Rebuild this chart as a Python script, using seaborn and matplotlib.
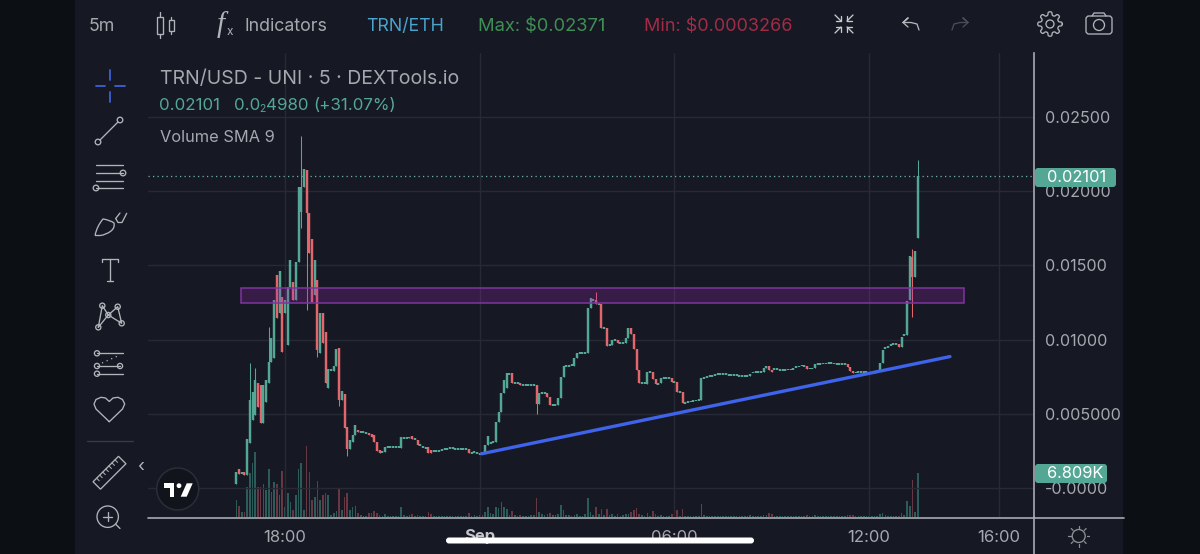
import numpy as np
import pandas as pd
import seaborn as sns
import matplotlib.pyplot as plt
from matplotlib.patches import Rectangle, Circle, Polygon, FancyBboxPatch, PathPatch
from matplotlib.path import Path

# candles are 5m apart, first one at 16:30, values in 1e-5 USD
opens = [
    27, 128, 101, 108, 88, 303, 458, 492, 707, 694,
    438, 579, 707, 848, 875, 1434, 1178, 1286, 1178, 963,
    1354, 1387, 1266, 1522, 1859, 2027, 2141, 1852, 1677, 1300,
    1401, 909, 1178, 1051, 673, 795, 788, 822, 943, 593,
    633, 411, 263, 310, 357, 391, 377, 377, 370, 370,
    364, 357, 310, 256, 242, 242, 276, 276, 276, 276,
    276, 269, 337, 337, 337, 350, 330, 323, 290, 276,
    269, 276, 256, 249, 249, 249, 256, 263, 263, 269,
    269, 263, 263, 263, 263, 263, 263, 236, 242, 236,
    229, 242, 236, 290, 303, 310, 310, 444, 512, 640,
    673, 768, 774, 707, 707, 707, 694, 694, 694, 694,
    694, 694, 566, 640, 640, 640, 613, 559, 559, 559,
    606, 747, 822, 822, 828, 822, 875, 909, 909, 909,
    909, 1212, 1266, 1266, 1239, 1239, 1077, 1077, 963, 963,
    997, 997, 976, 976, 976, 1010, 1077, 1037, 936, 795,
    707, 707, 700, 781, 781, 734, 700, 707, 741, 741,
    741, 741, 714, 714, 646, 646, 572, 579, 582, 586,
    589, 593, 593, 741, 747, 754, 754, 761, 768, 768,
    768, 768, 761, 761, 761, 761, 754, 754, 754, 754,
    754, 778, 781, 781, 781, 781, 808, 822, 795, 801,
    801, 795, 795, 795, 798, 798, 801, 815, 818, 824,
    822, 822, 805, 805, 808, 835, 835, 838, 838, 842,
    842, 838, 835, 835, 835, 835, 835, 815, 788, 778,
    781, 781, 781, 781, 774, 774, 774, 788, 788, 842,
    943, 951, 963, 970, 970, 970, 949, 1030, 1030, 1266,
    1556, 1421, 1684,
]
closes = [
    108, 94, 101, 88, 330, 593, 646, 727, 545, 438,
    694, 727, 848, 1010, 1266, 1145, 1461, 916, 1266, 1354,
    1535, 1266, 1522, 2027, 2027, 2148, 1852, 1582, 1253, 1535,
    929, 1178, 976, 707, 801, 795, 822, 936, 593, 653,
    404, 263, 323, 357, 424, 377, 377, 377, 370, 357,
    343, 310, 249, 236, 242, 276, 276, 276, 276, 276,
    276, 343, 337, 337, 343, 330, 330, 290, 290, 276,
    269, 236, 236, 249, 249, 249, 256, 263, 263, 269,
    269, 263, 263, 263, 263, 263, 236, 236, 242, 236,
    229, 229, 290, 350, 303, 310, 444, 512, 640, 727,
    774, 768, 707, 707, 707, 694, 694, 694, 694, 694,
    694, 566, 640, 640, 640, 613, 559, 559, 559, 606,
    747, 822, 822, 822, 828, 875, 909, 909, 909, 909,
    1212, 1279, 1266, 1239, 1239, 1077, 1077, 956, 963, 997,
    997, 976, 976, 976, 1010, 1077, 1037, 936, 795, 707,
    707, 707, 781, 781, 734, 700, 700, 741, 741, 741,
    741, 714, 714, 646, 646, 572, 572, 579, 582, 586,
    589, 593, 741, 741, 747, 754, 754, 761, 768, 768,
    768, 768, 761, 761, 761, 761, 754, 754, 754, 754,
    768, 778, 781, 781, 781, 808, 822, 795, 781, 801,
    801, 795, 795, 795, 798, 798, 801, 815, 818, 824,
    822, 801, 805, 805, 835, 835, 835, 838, 838, 842,
    842, 838, 835, 835, 835, 835, 815, 788, 774, 778,
    781, 781, 781, 781, 774, 774, 788, 788, 842, 929,
    943, 951, 963, 970, 970, 949, 1017, 1030, 1259, 1562,
    1421, 1596, 2101,
]
# only candles with a visible wick
wick_idx = [5, 7, 12, 24, 26, 30, 38, 41, 111, 133, 250, 252]
wick_high = [842, 808, 1084, 2371, 2141, 1401, 943, 411, 694, 1320, 1609, 2209]
wick_low = [303, 492, 707, 1751, 1199, 882, 552, 215, 498, 1239, 1152, 1684]

volumes = [
    2.6, 1.7, 0.8, 0.8, 4.6, 6.8, 8.4, 10.1, 4.6, 4.6,
    5.1, 4.2, 7.4, 3.9, 5.4, 5.1, 3.4, 7.1, 1.6, 3.7,
    2.3, 1.1, 3.4, 7.4, 8.4, 1.1, 11.0, 7.0, 2.6, 3.1,
    5.6, 2.6, 3.4, 3.7, 3.4, 0.3, 0.6, 0.9, 4.3, 1.1,
    3.1, 3.7, 1.1, 1.6, 1.7, 0.6, 0.3, 0.2, 0.2, 0.6,
    0.6, 0.9, 0.6, 0.3, 0.2, 0.5, 0.2, 0.2, 0.2, 0.2,
    0.2, 1.6, 0.3, 0.2, 0.3, 0.5, 0.2, 0.3, 0.2, 0.2,
    0.2, 0.8, 0.5, 0.2, 0.2, 0.2, 0.2, 0.2, 0.2, 0.2,
    0.2, 0.2, 0.2, 0.2, 0.2, 0.2, 0.6, 0.2, 0.3, 0.2,
    0.3, 0.3, 0.8, 1.6, 0.6, 0.5, 1.6, 1.4, 2.3, 1.6,
    1.2, 0.3, 0.9, 0.3, 0.2, 0.3, 0.2, 0.2, 0.2, 0.3,
    0.3, 2.9, 0.8, 0.5, 0.3, 0.5, 0.6, 0.3, 0.3, 0.5,
    1.9, 1.1, 0.3, 0.3, 0.2, 0.3, 0.5, 0.2, 0.2, 0.5,
    2.9, 0.8, 0.3, 1.6, 0.5, 1.2, 0.3, 1.2, 0.3, 0.5,
    0.2, 0.5, 0.2, 0.3, 0.5, 0.5, 0.8, 1.1, 1.4, 0.5,
    0.3, 0.2, 0.6, 0.2, 0.9, 0.5, 0.2, 0.3, 0.2, 0.2,
    0.2, 0.5, 0.2, 1.1, 0.2, 1.2, 0.2, 0.2, 0.2, 0.2,
    0.2, 0.2, 2.0, 0.3, 0.2, 0.2, 0.2, 0.2, 0.2, 0.2,
    0.2, 0.2, 0.2, 0.2, 0.2, 0.2, 0.2, 0.2, 0.2, 0.2,
    0.3, 0.2, 0.2, 0.2, 0.2, 0.3, 0.3, 0.6, 0.5, 0.2,
    0.2, 0.2, 0.2, 0.2, 0.2, 0.2, 0.2, 0.2, 0.2, 0.2,
    0.2, 0.3, 0.2, 0.2, 0.3, 0.2, 0.2, 0.2, 0.2, 0.2,
    0.2, 0.2, 0.2, 0.2, 0.2, 0.2, 0.3, 0.3, 0.3, 0.2,
    0.2, 0.2, 0.2, 0.2, 0.2, 0.2, 0.2, 0.2, 0.5, 0.6,
    0.3, 0.2, 0.2, 0.2, 0.2, 0.2, 0.6, 0.3, 2.5, 1.7,
    5.7, 0.8, 6.809,
]

price_ticks = [0.025, 0.02, 0.015, 0.01, 0.005, 0.0]
price_labels = ['0.02500', '0.02000', '0.01500', '0.01000', '0.005000', '-0.0000']
time_ticks = [0, 6, 12, 18, 22]
time_labels = ['18:00', 'Sep', '06:00', '12:00', '16:00']
last_price = 0.02101

# drawings made on the chart: hours after 18:00, price
zone_hours = [-1.356, 20.92]
zone_prices = [0.01246, 0.01347]
trend_hours = [6.06, 20.49]
trend_prices = [0.00231, 0.00885]

GREEN = '#54a795'
RED = '#e2666b'
VOL_GREEN = '#2c5c5a'
VOL_RED = '#683744'
BG = '#161923'
GRID = '#272a34'
GREY = '#a6a8ae'
ICON = '#b2b4b9'

sns.set_theme(style='dark')
plt.rcParams['font.family'] = ['Inter', 'DejaVu Sans']

df = pd.DataFrame({'open': opens, 'close': closes, 'volume': volumes})
df['open'] = df['open'] * 1e-5
df['close'] = df['close'] * 1e-5
df['hours'] = (df.index - 18) * 5 / 60
df['high'] = df[['open', 'close']].max(axis=1)
df['low'] = df[['open', 'close']].min(axis=1)
df.loc[wick_idx, 'high'] = np.array(wick_high) * 1e-5
df.loc[wick_idx, 'low'] = np.array(wick_low) * 1e-5
df['side'] = np.where(df['close'] >= df['open'], 'up', 'down')
colors = df['side'].map({'up': GREEN, 'down': RED})

fig = plt.figure(figsize=(12, 5.54), dpi=100, facecolor='#0c0f14')

back = fig.add_axes([0, 0, 1, 1], zorder=0)
back.set_xlim(0, 1200)
back.set_ylim(554, 0)
back.axis('off')
back.add_patch(Rectangle((75, 0), 1048, 554, color=BG, lw=0))

# volume sits under the price panel, on its own scale
axv = fig.add_axes([148 / 1200, 37 / 554, 886 / 1200, 464 / 554], zorder=1)
axv.patch.set_visible(False)
sns.barplot(data=df, x='hours', y='volume', hue='side', native_scale=True,
            palette={'up': VOL_GREEN, 'down': VOL_RED}, dodge=False, legend=False,
            errorbar=None, saturation=1, width=0.6, linewidth=0, ax=axv)
axv.set_ylim(0, 71.8)
axv.set_xlim(-4.222, 23.08)
axv.axis('off')

ax = fig.add_axes([148 / 1200, 37 / 554, 886 / 1200, 464 / 554], zorder=2)
ax.patch.set_visible(False)
ax.set_xlim(-4.222, 23.08)
ax.set_ylim(-0.00195, 0.02929)

ax.grid(True, color=GRID, lw=1)
ax.set_axisbelow(True)
ax.set_xticks(time_ticks)
ax.set_xticklabels(time_labels)
ax.set_yticks(price_ticks)
ax.set_yticklabels(price_labels)
ax.yaxis.tick_right()
ax.tick_params(axis='y', length=0, pad=8, labelsize=11.6, labelcolor=GREY)
ax.tick_params(axis='x', length=0, pad=9, labelsize=12, labelcolor=GREY)
ax.get_xticklabels()[1].set_fontweight('bold')
ax.get_xticklabels()[1].set_color('#c4c6cb')
for name in ['top', 'left', 'bottom']:
    ax.spines[name].set_visible(False)
ax.spines['right'].set_color('#a9abb1')
ax.spines['right'].set_linewidth(1.2)

ax.hlines(last_price, -4.222, 23.08, color='#6fb3a4', lw=0.9, linestyles=(0, (1, 2.6)), zorder=2)

# candles: thin wick plus a body that never gets thinner than a dash
mid = (df['open'] + df['close']) / 2
half = np.maximum((df['close'] - df['open']).abs() / 2, 0.00005)
ax.vlines(df['hours'], df['low'], df['high'], colors=colors, lw=0.75, capstyle='butt', zorder=3)
ax.vlines(df['hours'], mid - half, mid + half, colors=colors, lw=1.75, capstyle='butt', zorder=3)

ax.add_patch(Rectangle((zone_hours[0], zone_prices[0]), zone_hours[1] - zone_hours[0],
                       zone_prices[1] - zone_prices[0], facecolor='#9c27b0', alpha=0.25,
                       edgecolor='none', zorder=4))
ax.add_patch(Rectangle((zone_hours[0], zone_prices[0]), zone_hours[1] - zone_hours[0],
                       zone_prices[1] - zone_prices[0], facecolor='none',
                       edgecolor='#7f35a0', lw=1.1, zorder=4))
sns.lineplot(x=trend_hours, y=trend_prices, color='#3f63ea', lw=2.4, ax=ax, zorder=5)
ax.set_xlabel('')
ax.set_ylabel('')

# toolbar, legend text and badges are laid over the chart in pixels
ui = fig.add_axes([0, 0, 1, 1], zorder=3)
ui.set_xlim(0, 1200)
ui.set_ylim(554, 0)
ui.axis('off')
ui.patch.set_visible(False)


def stroke(xs, ys, color=ICON, lw=0.95, **kw):
    ui.plot(xs, ys, color=color, lw=lw, solid_capstyle='round', **kw)


def ring(x, y, r, color=ICON, lw=0.95, fill='none'):
    ui.add_patch(Circle((x, y), r, facecolor=fill, edgecolor=color, lw=lw))


stroke([148, 1124], [517.5, 517.5], color='#a9abb1', lw=1.2)
stroke([1034, 1034], [517, 554], color='#a9abb1', lw=1.2)

# top bar
ui.text(89, 26.5, '5m', color=GREY, fontsize=12.8, va='center')
ui.text(245, 26.5, 'Indicators', color=GREY, fontsize=12.8, va='center')
ui.text(366, 26.5, 'TRN/ETH', color='#4ba4cf', fontsize=12.8, va='center')
ui.text(478, 26.5, 'Max: $0.02371', color='#3f8f55', fontsize=13.2, va='center')
ui.text(644, 26.5, 'Min: $0.0003266', color='#a32b45', fontsize=13.0, va='center')
ui.text(217, 25, 'f', color=ICON, fontsize=21, style='italic', family='Liberation Serif', va='center')
ui.text(227, 32, 'x', color=ICON, fontsize=8.5, va='center')

stroke([160, 160], [12, 38])
stroke([171, 171], [17, 34])
ui.add_patch(Rectangle((157, 17), 6, 17, facecolor=BG, edgecolor=ICON, lw=0.95, zorder=5))
ui.add_patch(Rectangle((168.5, 20), 5, 10.5, facecolor=BG, edgecolor=ICON, lw=0.95, zorder=5))

# legend rows
ui.text(160, 78.5, 'TRN/USD - UNI · 5 · DEXTools.io', color=GREY, fontsize=14, va='center')
ui.text(159, 106, '0.02101', color=GREEN, fontsize=12.2, va='center')
ui.text(234, 106, '0.0', color=GREEN, fontsize=12.2, va='center')
ui.text(259, 109, '2', color=GREEN, fontsize=7.5, va='center')
ui.text(266, 106, '4980', color=GREEN, fontsize=12.2, va='center')
ui.text(313, 106, '(+31.07%)', color=GREEN, fontsize=12.2, va='center')
ui.text(160, 138, 'Volume SMA 9', color=GREY, fontsize=11.8, va='center')

# price badges
for x1, y1, label, in [(1117, 167, '0.02101'), (1108, 463, '6.809K')]:
    ui.add_patch(FancyBboxPatch((1035, y1 + 1), x1 - 1036, 19, boxstyle='round,pad=0,rounding_size=3',
                                facecolor=GREEN, edgecolor='none', zorder=6))
    ui.text(1047, y1 + 11, label, color='white', fontsize=11.8, va='center', zorder=7)

# left tool column
stroke([95.5, 105], [86, 86], color='#3f5fd8', lw=1.3)
stroke([115, 125], [86, 86], color='#3f5fd8', lw=1.3)
stroke([110, 110], [70, 80], color='#3f5fd8', lw=1.3)
stroke([110, 110], [92, 102], color='#3f5fd8', lw=1.3)

stroke([100, 118], [140, 122])
ring(98, 142, 2.8)
ring(120, 120, 2.8)

for y in [165, 173, 181, 188]:
    stroke([96, 123], [y, y])
ring(123, 173, 2.8, fill=BG)
ring(96, 188, 2.8, fill=BG)

# brush: a leaf shaped tip and a hook for the handle
leaf = Path([(95, 235.5), (97, 226), (103, 219), (110, 220), (114, 223), (115, 228), (111, 231),
             (106, 235), (100, 235.5), (95, 235.5)],
            [Path.MOVETO] + [Path.CURVE3] * 8 + [Path.LINETO])
ui.add_patch(PathPatch(leaf, fill=False, edgecolor=ICON, lw=0.95))
stroke([115.7, 120], [218.5, 213])
stroke([115.7, 118, 122, 126.7], [218.5, 222.5, 222.5, 213.3])

stroke([101.7, 118.3], [259, 259])
stroke([110, 110], [259, 281])
stroke([107, 113], [281, 281])
stroke([101.7, 101.7], [259, 262])
stroke([118.3, 118.3], [259, 262])

px = [98.3, 102.3, 108.3, 121.7, 117.7, 108.3, 98.3]
py = [327.3, 305.7, 315, 323.3, 306.7, 315, 327.3]
stroke(px, py)
for x, y in [(98.3, 327.3), (102.3, 305.7), (108.3, 315), (121.7, 323.3), (117.7, 306.7)]:
    ring(x, y, 2.6, fill=BG)

for y, x2 in [(353.3, 123), (366, 120), (373.7, 123)]:
    stroke([97, x2], [y, y])
    ring(97, y, 2.6, fill=BG)
ring(120, 366, 2.6, fill=BG)
stroke([102, 120], [363, 355], lw=0.9, ls=(0, (1, 3)))

hx = [109.3, 96, 94, 96, 101, 105.5, 109.3, 113, 118, 122.5, 124.7, 122.5, 109.3]
hy = [421.7, 409, 404, 399.5, 397.3, 398, 401.5, 398, 397.3, 399.5, 404, 409, 421.7]
stroke(hx, hy)

stroke([87, 133], [440.7, 440.7], color='#3a3c44')

ui.add_patch(Rectangle((91.5, 467.5), 36, 10.5, angle=-45, rotation_point='center',
                       fill=False, edgecolor=ICON, lw=0.95))
for t in np.linspace(-13, 13, 7):
    x0 = 109.5 + t * 0.707 - 3.7
    y0 = 472.7 - t * 0.707 - 3.7
    stroke([x0, x0 + 2.6], [y0, y0 + 2.6], lw=0.7)
ui.text(141, 467, '‹', color=ICON, fontsize=13, ha='center', va='center')

ring(107.7, 516.7, 10.7)
stroke([103, 112.4], [516.7, 516.7])
stroke([107.7, 107.7], [512, 521.4])
stroke([115.5, 120], [524, 528.5])

# TradingView badge
ring(177.7, 489, 21, color='#2b2e38', lw=1.1, fill='#12141b')
ui.add_patch(Polygon([(164.3, 483.3), (174.3, 483.3), (174.3, 496.7), (170, 496.7), (170, 487.7), (164.3, 487.7)],
                     color='white', lw=0))
ui.add_patch(Circle((179, 485.7), 2.4, color='white', lw=0))
ui.add_patch(Polygon([(186.7, 483.3), (192.7, 483.3), (186.7, 496.7), (180.7, 496.7)], color='white', lw=0))

# top right buttons
for sx, sy in [(-1, -1), (1, -1), (-1, 1), (1, 1)]:
    stroke([844 + sx * 3, 844 + sx * 9], [24 + sy * 3, 24 + sy * 9], color='#c8cace')
    stroke([844 + sx * 3, 844 + sx * 3], [24 + sy * 3, 24 + sy * 8], color='#c8cace')
    stroke([844 + sx * 3, 844 + sx * 8], [24 + sy * 3, 24 + sy * 3], color='#c8cace')

stroke([919, 917, 911, 903], [30, 24, 22.5, 22.5])
stroke([903, 908, 903, 908], [22.5, 18, 22.5, 27])
stroke([952, 954, 960, 968], [30, 24, 22.5, 22.5], color='#4b4d55')
stroke([968, 963, 968, 963], [22.5, 18, 22.5, 27], color='#4b4d55')

angles = np.linspace(0, 2 * np.pi, 81)
radius = 10.5 + 1.7 * np.clip(2.2 * np.cos(8 * angles), -1, 1)
stroke(1050 + radius * np.cos(angles), 24 + radius * np.sin(angles))
ring(1050, 24, 4)

ui.add_patch(FancyBboxPatch((1086, 16), 26, 18, boxstyle='round,pad=0,rounding_size=3',
                            fill=False, edgecolor=ICON, lw=0.95))
stroke([1092, 1094, 1104, 1106], [16, 13, 13, 16])
ring(1099, 25, 5.5)

# sun button
ring(1078.7, 536, 6.5, color='#8e9096')
for a in np.arange(8) * np.pi / 4:
    stroke([1078.7 + 8 * np.cos(a), 1078.7 + 10.5 * np.cos(a)],
           [536 + 8 * np.sin(a), 536 + 10.5 * np.sin(a)], color='#8e9096', lw=0.9)

# phone home indicator covers the axis labels
ui.add_patch(FancyBboxPatch((446, 537.5), 308, 6, boxstyle='round,pad=0,rounding_size=3',
                            facecolor='white', edgecolor='none', zorder=8))

fig.savefig('out.png', dpi=100, facecolor=fig.get_facecolor())
